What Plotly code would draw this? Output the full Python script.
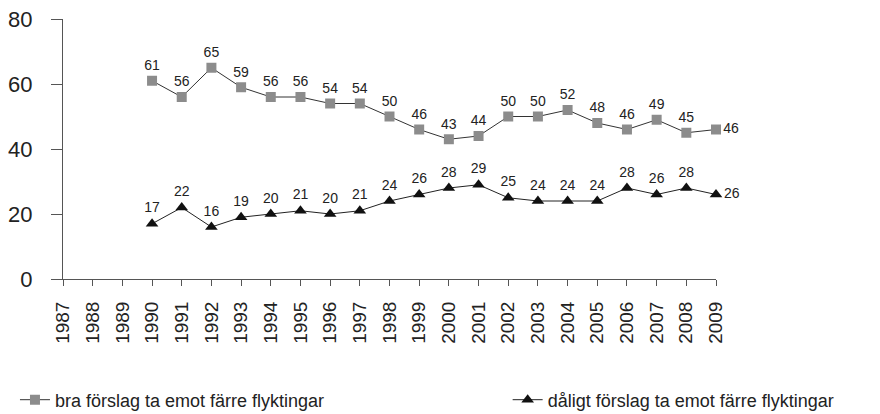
import plotly.graph_objects as go

years = list(range(1990, 2010))
bra = [61, 56, 65, 59, 56, 56, 54, 54, 50, 46, 43, 44, 50, 50, 52, 48, 46, 49, 45, 46]
daligt = [17, 22, 16, 19, 20, 21, 20, 21, 24, 26, 28, 29, 25, 24, 24, 24, 28, 26, 28, 26]
tick_years = list(range(1987, 2010))
name_bra = "bra förslag ta emot färre flyktingar"
name_daligt = "dåligt förslag ta emot färre flyktingar"

font = "Liberation Sans, Arial, sans-serif"
pos = ["top center"] * (len(years) - 1) + ["middle right"]

fig = go.Figure()
fig.add_trace(go.Scatter(
    x=years, y=bra, name=name_bra, mode="lines+markers+text",
    text=[str(v) for v in bra], textposition=pos,
    textfont=dict(size=14, color="#222222", family=font),
    line=dict(color="#333333", width=1),
    marker=dict(symbol="square", size=10, color="#8c8c8c"),
    legend="legend",
))
fig.add_trace(go.Scatter(
    x=years, y=daligt, name=name_daligt, mode="lines+markers+text",
    text=[str(v) for v in daligt], textposition=pos,
    textfont=dict(size=14, color="#222222", family=font),
    line=dict(color="#222222", width=1),
    marker=dict(symbol="triangle-up", size=11, color="#111111"),
    legend="legend2",
))

legfont = dict(size=18, family=font, color="#222222")
fig.update_layout(
    width=872, height=406,
    margin=dict(l=55, r=164, t=11, b=135, autoexpand=False),
    paper_bgcolor="white", plot_bgcolor="white",
    font=dict(family=font, color="#222222"),
    showlegend=True,
    legend=dict(
        orientation="h", xref="container", yref="container",
        x=0.008, xanchor="left", y=0.0345, yanchor="middle",
        font=legfont, itemwidth=30, bgcolor="rgba(0,0,0,0)",
    ),
    legend2=dict(
        orientation="h", xref="container", yref="container",
        x=0.573, xanchor="left", y=0.0345, yanchor="middle",
        font=legfont, itemwidth=30, bgcolor="rgba(0,0,0,0)",
    ),
    xaxis=dict(
        range=[1987, 2009], tickvals=tick_years, ticktext=[str(y) for y in tick_years],
        tickangle=-90, showgrid=False, zeroline=False, automargin=False,
        showline=True, linecolor="#555555", linewidth=1,
        ticks="outside", ticklen=6, tickcolor="#555555",
        ticklabelstandoff=8, ticklabeloverflow="allow",
        tickfont=dict(size=19, family=font, color="#222222"),
    ),
    yaxis=dict(
        range=[0, 80], dtick=20, showgrid=False, zeroline=False, automargin=False,
        showline=True, linecolor="#555555", linewidth=1,
        ticks="outside", ticklen=11, tickcolor="#555555",
        ticklabelstandoff=14, ticklabeloverflow="allow",
        tickfont=dict(size=22, family=font, color="#222222"),
    ),
)
fig.update_traces(cliponaxis=False)
fig.write_html("out.html")
